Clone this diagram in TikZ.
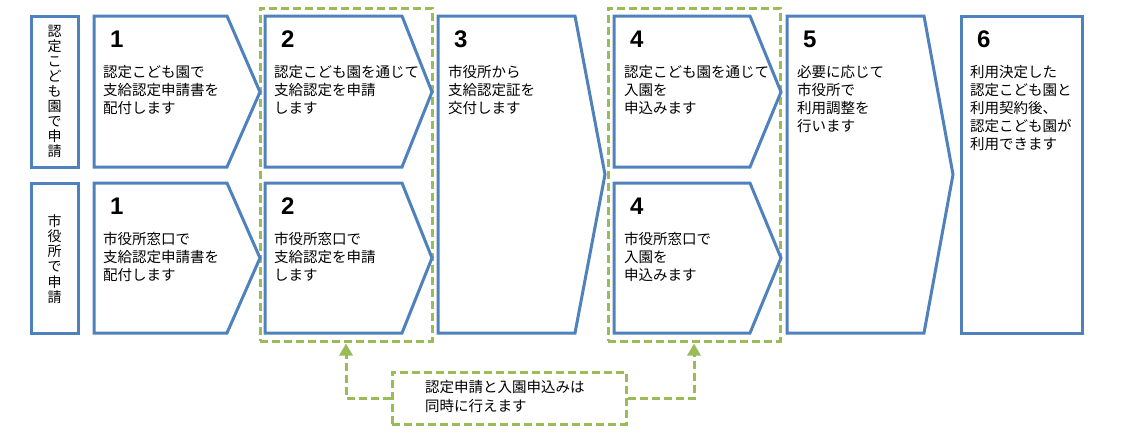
\documentclass[tikz,border=0pt]{standalone}
\usepackage{fontspec}
\setmainfont{Noto Sans CJK JP}
\newfontfamily\numfont{Liberation Sans}
\usetikzlibrary{arrows.meta}
\definecolor{stepblue}{HTML}{4F81BD}
\definecolor{grpgreen}{HTML}{9BBB59}
\begin{document}
\begin{tikzpicture}[x=1pt,y=-1pt,
 stepline/.style={draw=stepblue,line width=3pt},
 grpbox/.style={draw=grpgreen,line width=3pt,dash pattern=on 8pt off 4pt,inner sep=0pt,minimum width=172pt,minimum height=333pt},
 stepnum/.style={anchor=base west,inner sep=0pt,font=\numfont\bfseries\fontsize{24}{24}\selectfont},
 steptext/.style={anchor=north west,inner sep=0pt,align=left,font=\fontsize{14.5}{18}\selectfont},
 vlabel/.style={inner sep=0pt,align=center,font=\fontsize{14}{15.1}\selectfont},
 garrow/.style={draw=grpgreen,line width=3pt,dash pattern=on 8pt off 4pt,-{Triangle[width=13pt,length=12pt]},shorten >=1pt}
]
\useasboundingbox (0,0) rectangle (1134,437);

% group boxes
\node[grpbox] (g2) at (346,174.5) {};
\node[grpbox] (g4) at (694,174.5) {};

% left labels
\draw[stepline] (31,16) rectangle (78,167);
\draw[stepline] (31,183) rectangle (78,333);
\node[vlabel] (lab1) at (54.5,91.5) {認\\定\\こ\\ど\\も\\園\\で\\申\\請};
\node[vlabel] (lab2) at (54.5,259) {市\\役\\所\\で\\申\\請};

% step shapes
\draw[stepline] (94,16) -- (227,16) -- (260,92) -- (227,167) -- (94,167) -- cycle;
\draw[stepline] (94,183) -- (227,183) -- (260,258) -- (227,333) -- (94,333) -- cycle;
\draw[stepline] (265,16) -- (402,16) -- (432,92) -- (402,167) -- (265,167) -- cycle;
\draw[stepline] (265,183) -- (402,183) -- (432,258) -- (402,333) -- (265,333) -- cycle;
\draw[stepline] (438,16) -- (575,16) -- (605,174.5) -- (575,333) -- (438,333) -- cycle;
\draw[stepline] (614,16) -- (750,16) -- (781,92) -- (750,167) -- (614,167) -- cycle;
\draw[stepline] (614,183) -- (750,183) -- (781,258) -- (750,333) -- (614,333) -- cycle;
\draw[stepline] (787,16) -- (924,16) -- (953,174.5) -- (924,333) -- (787,333) -- cycle;
\draw[stepline] (961,16) rectangle (1082,333);

% numbers
\node[stepnum] (n1a) at (110,47) {1};
\node[stepnum] (n1b) at (110,214) {1};
\node[stepnum] (n2a) at (281,47) {2};
\node[stepnum] (n2b) at (281,214) {2};
\node[stepnum] (n3) at (454,47) {3};
\node[stepnum] (n4a) at (630,47) {4};
\node[stepnum] (n4b) at (630,214) {4};
\node[stepnum] (n5) at (803,47) {5};
\node[stepnum] (n6) at (977,47) {6};

% texts
\node[steptext] (t1a) at (103,65) {認定こども園で\\支給認定申請書を\\配付します};
\node[steptext] (t1b) at (103,232) {市役所窓口で\\支給認定申請書を\\配付します};
\node[steptext] (t2a) at (274,65) {認定こども園を通じて\\支給認定を申請\\します};
\node[steptext] (t2b) at (274,232) {市役所窓口で\\支給認定を申請\\します};
\node[steptext] (t3) at (448,65) {市役所から\\支給認定証を\\交付します};
\node[steptext] (t4a) at (624,65) {認定こども園を通じて\\入園を\\申込みます};
\node[steptext] (t4b) at (624,232) {市役所窓口で\\入園を\\申込みます};
\node[steptext] (t5) at (797,65) {必要に応じて\\市役所で\\利用調整を\\行います};
\node[steptext] (t6) at (970,65) {利用決定した\\認定こども園と\\利用契約後、\\認定こども園が\\利用できます};

% callout
\node[draw=grpgreen,line width=3pt,dash pattern=on 8pt off 4pt,inner sep=0pt,minimum width=234pt,minimum height=52pt] (call) at (509,398) {};
\node[anchor=north west,inner sep=0pt,align=left,font=\fontsize{14.5}{19}\selectfont] (calltext) at (425,380) {認定申請と入園申込みは\\同時に行えます};
\draw[garrow] (call.west) -| (g2.south);
\draw[garrow] (call.east) -| (g4.south);
\end{tikzpicture}
\end{document}
